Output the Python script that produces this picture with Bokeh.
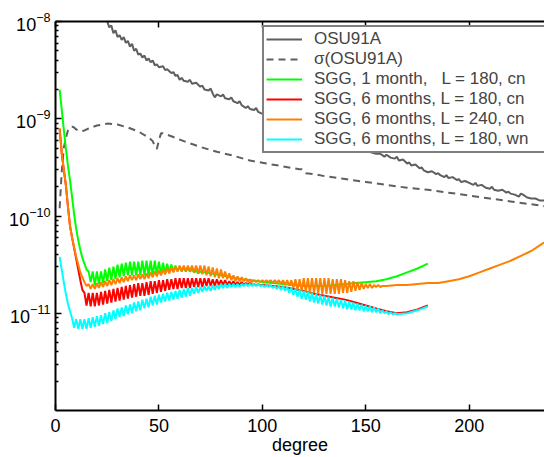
from bokeh.plotting import figure
from bokeh.models import FixedTicker, LinearAxis, Legend, LegendItem, Range1d
from bokeh.embed import file_html
from bokeh.resources import INLINE

# ---------------- data (log10 of degree variances) ----------------
osu_deg = [20,22,24,25,26,27,28,29,30,31,32,33,34,35,36,37,38,39,40,41,42,43,44,45,46,47,48,49,50,
           52,53,54,56,57,58,59,60,61,62,64,65,66,68,70,71,72,74,75,76,77,78,80,81,82,84,85,86,88,89,
           90,92,93,94,96,97,98,100,102,104,106,108,110,115,120,125,130,135,140,145,150,155,157,159,160,
           162,164,165,166,168,170,171,172,174,176,177,178,180,182,184,185,186,188,189,190,192,194,195,196,
           198,200,202,203,204,206,208,210,211,212,214,216,218,219,220,222,224,225,226,228,230,232,234,236,238,240]
osu_log = [-7.90,-7.95,-7.98,-8.00,-8.06,-8.04,-8.12,-8.09,-8.16,
           -8.14,-8.19,-8.16,-8.22,-8.20,-8.26,-8.23,-8.30,-8.28,-8.34,
           -8.33,-8.37,-8.35,-8.40,-8.38,-8.42,-8.40,-8.45,-8.44,-8.47,
           -8.46,-8.50,-8.49,-8.53,-8.52,-8.56,-8.55,-8.60,-8.58,-8.61,
           -8.62,-8.60,-8.64,-8.63,-8.67,-8.66,-8.70,-8.71,-8.69,-8.74,
           -8.78,-8.75,-8.77,-8.75,-8.79,-8.80,-8.78,-8.82,-8.84,-8.82,
           -8.86,-8.89,-8.87,-8.90,-8.91,-8.89,-8.93,-8.95,-8.96,-8.99,
           -9.00,-9.03,-9.04,-9.08,-9.12,-9.16,-9.20,-9.24,-9.27,-9.30,
           -9.33,-9.36,-9.36,-9.39,-9.37,-9.40,-9.41,-9.39,-9.43,-9.42,
           -9.46,-9.45,-9.48,-9.47,-9.51,-9.50,-9.53,-9.55,-9.54,-9.57,
           -9.56,-9.58,-9.60,-9.58,-9.61,-9.60,-9.63,-9.62,-9.65,-9.64,
           -9.66,-9.68,-9.66,-9.69,-9.68,-9.71,-9.72,-9.70,-9.73,-9.74,
           -9.73,-9.76,-9.75,-9.77,-9.78,-9.80,-9.77,-9.78,-9.81,-9.82,
           -9.82,-9.84,-9.84,-9.86,-9.86]

sig_deg = [2,3,4,5,6,7,8,9,10,12,14,16,20,25,30,35,40,44,46,47,48,49,50,51,52,
           56,62,70,78,86,94,102,110,118,119,121,125,130,140,150,160,170,180,190,200,210,220,230,240]
sig_log = [-9.92,-9.55,-9.30,-9.20,-9.12,-9.09,-9.08,-9.09,-9.11,-9.13,-9.12,-9.10,
           -9.07,-9.05,-9.06,-9.09,-9.13,-9.18,-9.21,-9.23,-9.28,-9.31,-9.22,-9.15,-9.15,
           -9.18,-9.23,-9.29,-9.34,-9.38,-9.43,-9.46,-9.49,-9.52,-9.52,-9.56,-9.57,-9.59,
           -9.62,-9.65,-9.68,-9.71,-9.73,-9.76,-9.79,-9.82,-9.85,-9.88,-9.91]

green_deg = list(range(2, 71)) + list(range(75, 181, 5))
green_log = [-8.70,-8.90,-9.11,-9.30,-9.48,-9.63,-9.80,-9.98,-10.13,-10.25,-10.35,-10.43,-10.49,-10.55,
             -10.57,-10.68,-10.57,-10.71,-10.57,-10.70,-10.57,-10.69,-10.55,-10.67,
             -10.53,-10.66,-10.52,-10.65,-10.50,-10.63,-10.49,-10.62,-10.48,-10.61,
             -10.47,-10.61,-10.47,-10.61,-10.47,-10.61,-10.46,-10.61,-10.46,-10.61,
             -10.46,-10.61,-10.46,-10.60,-10.47,-10.60,-10.48,-10.59,-10.49,-10.58,
             -10.50,-10.57,-10.51,-10.57,-10.52,-10.57,-10.53,-10.57,-10.54,-10.57,
             -10.55,-10.58,-10.56,-10.59,-10.57,
             -10.59,-10.61,-10.63,-10.65,-10.66,-10.68,-10.69,-10.70,-10.71,-10.72,-10.72,
             -10.72,-10.71,-10.70,-10.69,-10.68,-10.67,-10.65,-10.62,-10.58,-10.54,-10.49]

red_deg = list(range(2, 101)) + list(range(105, 181, 5))
red_log = [-9.10,-9.35,-9.52,-9.68,-9.90,-10.10,-10.22,-10.33,-10.44,-10.55,-10.66,-10.76,
           -10.79,-10.92,-10.79,-10.93,-10.79,-10.93,-10.79,-10.92,-10.78,-10.91,
           -10.77,-10.90,-10.76,-10.89,-10.75,-10.88,-10.74,-10.87,-10.73,-10.86,
           -10.72,-10.85,-10.71,-10.84,-10.70,-10.83,-10.69,-10.82,-10.69,-10.82,
           -10.68,-10.81,-10.67,-10.80,-10.67,-10.79,-10.66,-10.78,-10.66,-10.77,
           -10.65,-10.76,-10.65,-10.75,-10.64,-10.75,-10.64,-10.74,-10.64,-10.74,
           -10.64,-10.74,-10.64,-10.73,-10.64,-10.73,-10.64,-10.73,-10.64,-10.72,
           -10.64,-10.72,-10.65,-10.72,-10.65,-10.71,-10.66,-10.71,-10.66,-10.71,
           -10.67,-10.71,-10.67,-10.71,-10.68,-10.71,-10.68,-10.71,-10.69,-10.71,
           -10.69,-10.71,-10.70,-10.71,-10.70,-10.71,-10.71,
           -10.72,-10.73,-10.75,-10.77,-10.80,-10.82,-10.84,-10.86,-10.89,-10.92,-10.95,
           -10.98,-11.00,-10.99,-10.96,-10.92]

orange_deg = list(range(2, 161)) + list(range(165, 241, 5))
orange_log = [-9.10,-9.35,-9.52,-9.68,-9.90,-10.10,-10.22,-10.32,-10.42,-10.50,-10.58,-10.63,-10.68,-10.72,
              -10.70,-10.75,-10.70,-10.75,-10.69,-10.74,-10.68,-10.73,-10.67,-10.72,
              -10.66,-10.71,-10.65,-10.70,-10.64,-10.69,-10.63,-10.68,-10.62,-10.67,
              -10.61,-10.66,-10.61,-10.66,-10.60,-10.65,-10.60,-10.65,-10.59,-10.64,
              -10.58,-10.63,-10.57,-10.62,-10.56,-10.61,-10.55,-10.60,-10.54,-10.59,
              -10.53,-10.58,-10.52,-10.57,-10.51,-10.57,-10.51,-10.57,-10.51,-10.57,
              -10.51,-10.58,-10.51,-10.59,-10.51,-10.60,-10.51,-10.61,-10.52,-10.62,
              -10.53,-10.63,-10.54,-10.64,-10.55,-10.64,-10.57,-10.65,-10.59,-10.66,
              -10.61,-10.67,-10.62,-10.67,-10.63,-10.67,-10.64,-10.68,-10.65,-10.68,
              -10.66,-10.68,-10.66,-10.68,-10.66,-10.68,-10.66,-10.68,-10.66,-10.69,
              -10.66,-10.69,-10.66,-10.70,-10.66,-10.71,-10.66,-10.72,-10.66,-10.74,
              -10.65,-10.76,-10.65,-10.77,-10.64,-10.78,-10.64,-10.79,-10.64,-10.79,
              -10.64,-10.80,-10.64,-10.80,-10.64,-10.80,-10.64,-10.80,-10.65,-10.80,
              -10.65,-10.80,-10.65,-10.79,-10.66,-10.79,-10.67,-10.78,-10.67,-10.77,
              -10.68,-10.76,-10.69,-10.75,-10.70,-10.74,-10.70,-10.74,-10.71,-10.73,
              -10.71,-10.73,-10.72,-10.72,-10.72,
              -10.71,-10.71,-10.70,-10.69,-10.69,-10.67,-10.65,-10.62,-10.58,-10.54,
              -10.50,-10.46,-10.41,-10.36,-10.29,-10.22]

cyan_deg = list(range(2, 166)) + [170, 175, 180]
cyan_log = [-10.42,-10.55,-10.68,-10.80,-10.90,-10.98,-11.05,
            -11.15,-11.06,-11.16,-11.06,-11.16,-11.06,-11.16,-11.05,-11.15,-11.04,
            -11.14,-11.03,-11.13,-11.02,-11.11,-11.00,-11.10,-10.99,-11.08,-10.97,
            -11.06,-10.95,-11.04,-10.94,-11.03,-10.92,-11.01,-10.91,-11.00,-10.89,
            -10.98,-10.88,-10.97,-10.86,-10.95,-10.85,-10.94,-10.83,-10.92,-10.82,
            -10.91,-10.81,-10.89,-10.80,-10.88,-10.79,-10.87,-10.78,-10.86,-10.77,
            -10.85,-10.76,-10.84,-10.75,-10.83,-10.74,-10.82,-10.74,-10.80,-10.73,
            -10.79,-10.73,-10.78,-10.72,-10.77,-10.72,-10.77,-10.71,-10.76,-10.71,
            -10.75,-10.70,-10.74,-10.70,-10.74,-10.70,-10.73,-10.70,-10.73,-10.70,
            -10.73,-10.70,-10.72,-10.70,-10.72,-10.70,-10.72,-10.70,-10.72,-10.70,
            -10.72,-10.71,-10.73,-10.71,-10.73,-10.71,-10.74,-10.72,-10.75,-10.72,
            -10.76,-10.72,-10.77,-10.73,-10.79,-10.74,-10.81,-10.75,-10.83,-10.76,
            -10.85,-10.77,-10.86,-10.78,-10.88,-10.79,-10.89,-10.80,-10.90,-10.81,
            -10.91,-10.82,-10.92,-10.83,-10.93,-10.84,-10.93,-10.85,-10.94,-10.86,
            -10.95,-10.87,-10.96,-10.88,-10.96,-10.89,-10.97,-10.90,-10.97,-10.91,
            -10.98,-10.92,-10.98,-10.93,-10.99,-10.94,-10.99,-10.95,-11.00,-10.97,
            -11.00,-10.98,-11.01,-10.99,-11.01,-11.00,-11.01,
            -11.00,-10.97,-10.93]

x_ticks = [0, 50, 100, 150, 200]
y_ticks = [1e-11, 1e-10, 1e-9, 1e-8]
y_minor = [k * 10.0 ** e for e in (-12, -11, -10, -9) for k in range(2, 10)]

labels = ["OSU91A", "\u03c3(OSU91A)",
          "SGG, 1 month,\u00a0\u00a0\u00a0L = 180, cn",
          "SGG, 6 months, L = 180, cn",
          "SGG, 6 months, L = 240, cn",
          "SGG, 6 months, L = 180, wn"]


def to_val(logs):
    return [10.0 ** v for v in logs]


FONT = "Liberation Sans"

p = figure(width=544, height=457, output_backend="svg", toolbar_location=None,
           x_range=Range1d(0, 236.4), y_range=Range1d(1e-12, 1e-8), y_axis_type="log",
           min_border_left=55, min_border_right=0, min_border_top=21, min_border_bottom=44)
p.outline_line_color = None
p.grid.visible = False
p.background_fill_color = "white"
p.border_fill_color = "white"

r_osu = p.line(osu_deg, to_val(osu_log), line_color="#5f5f5f", line_width=2)
r_sig = p.line(sig_deg, to_val(sig_log), line_color="#5f5f5f", line_width=2, line_dash="7 5")
r_g = p.line(green_deg, to_val(green_log), line_color="#00ff00", line_width=2)
r_r = p.line(red_deg, to_val(red_log), line_color="#ff0000", line_width=2)
r_o = p.line(orange_deg, to_val(orange_log), line_color="#ff8000", line_width=2)
r_c = p.line(cyan_deg, to_val(cyan_log), line_color="#00ffff", line_width=2)

# axes
xa = p.xaxis[0]
xa.ticker = FixedTicker(ticks=x_ticks)
xa.axis_label = "degree"
ya = p.yaxis[0]
ya.ticker = FixedTicker(ticks=y_ticks, minor_ticks=y_minor)
for ax in (xa, ya):
    ax.axis_line_width = 2
    ax.axis_line_color = "black"
    ax.major_tick_in = 6
    ax.major_tick_out = 0
    ax.major_tick_line_width = 1.5
    ax.minor_tick_in = 3
    ax.minor_tick_out = 0
    ax.minor_tick_line_width = 1.5
    ax.major_label_text_font = FONT
    ax.major_label_text_font_size = "18px"
    ax.major_label_text_color = "black"
    ax.axis_label_text_font = FONT
    ax.axis_label_text_font_size = "18px"
    ax.axis_label_text_font_style = "normal"
    ax.axis_label_text_color = "black"
xa.minor_tick_in = 0
xa.major_label_standoff = 8
xa.axis_label_standoff = 0
ya.major_label_standoff = 5

# top frame edge with inward ticks (labels not painted)
top = LinearAxis(ticker=FixedTicker(ticks=x_ticks), axis_line_width=2, axis_line_color="black",
                 major_tick_in=6, major_tick_out=0, major_tick_line_width=1.5,
                 minor_tick_in=0, minor_tick_out=0, major_label_standoff=0,
                 major_label_text_font_size="10px", major_label_text_color=None)
p.add_layout(top, "above")

items = [LegendItem(label=lab, renderers=[r]) for lab, r in
         zip(labels, [r_osu, r_sig, r_g, r_r, r_o, r_c])]
legend = Legend(items=items, location=(207, 257), padding=2, spacing=0, margin=0,
                glyph_width=36, glyph_height=20, label_height=20, label_width=250,
                label_standoff=12, label_text_font=FONT, label_text_font_size="17px",
                border_line_color="black", border_line_width=2,
                background_fill_color="white", background_fill_alpha=1.0)
p.add_layout(legend, "center")

open("out.html", "w").write(file_html(p, INLINE))
